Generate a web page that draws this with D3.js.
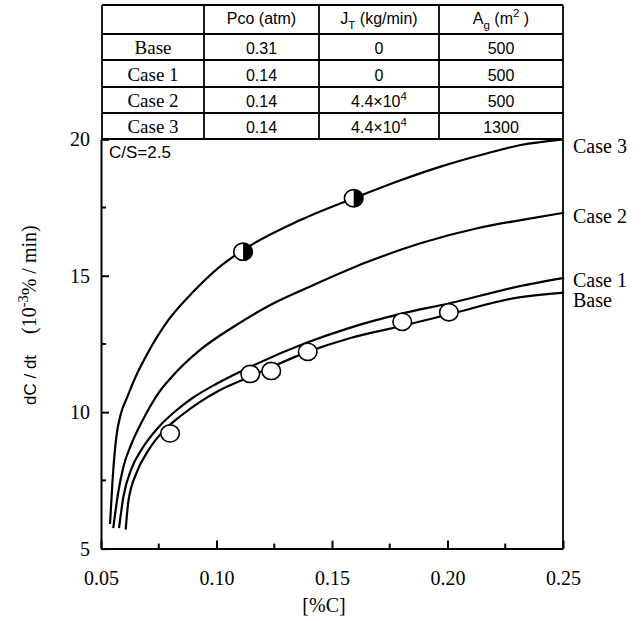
<!DOCTYPE html>
<html>
<head>
<meta charset="utf-8">
<script src="https://cdn.jsdelivr.net/npm/d3@7"></script>
<style>
  body { margin: 0; background: #fff; }
  .tick text { font-family: 'Liberation Serif', 'Times New Roman', serif; font-size: 20px; }
</style>
</head>
<body>
<script>
// ---- data ----
var caseNames = ["Base", "Case 1", "Case 2", "Case 3"];
var pcoVals = ["0.31", "0.14", "0.14", "0.14"];
var jtVals = ["0", "0", "4.4\u00d710^{4}", "4.4\u00d710^{4}"];
var agVals = ["500", "500", "500", "1300"];
var tableHeads = ["", "Pco (atm)", "J_{T} (kg/min)", "A_{g} (m^{2} )"];

// curves: [%C, dC/dt]
var baseCurve = [[0.0607,5.7],[0.0618,6.7],[0.0655,7.8],[0.0705,8.6],[0.0763,9.25],[0.0843,9.85],
  [0.0929,10.38],[0.1002,10.75],[0.1146,11.3],[0.1392,12.2],[0.158,12.72],[0.1797,13.15],
  [0.2014,13.6],[0.2303,14.2],[0.2505,14.38]];
var case1Curve = [[0.0578,5.75],[0.0597,6.9],[0.0633,7.95],[0.0677,8.65],[0.0749,9.45],[0.0828,10.08],
  [0.0893,10.5],[0.1002,11.05],[0.1146,11.66],[0.1392,12.55],[0.158,13.1],[0.1797,13.6],
  [0.2014,14.0],[0.2303,14.6],[0.2505,14.92]];
var case2Curve = [[0.0553,5.75],[0.0575,7.08],[0.0597,8.0],[0.0633,8.86],[0.0677,9.65],[0.0712,10.2],
  [0.0757,10.8],[0.0807,11.3],[0.0929,12.28],[0.1074,13.13],[0.1233,13.93],[0.142,14.66],[0.1652,15.5],
  [0.1883,16.19],[0.2129,16.74],[0.2317,17.04],[0.2505,17.31]];
var case3Curve = [[0.0539,5.9],[0.055,7.5],[0.0565,9.0],[0.0588,10.0],[0.0611,10.5],[0.065,11.3],
  [0.0698,12.1],[0.0792,13.38],[0.0899,14.41],[0.1007,15.28],[0.1107,15.9],[0.1363,17.04],[0.1594,17.84],
  [0.1797,18.5],[0.197,19.0],[0.2173,19.49],[0.2317,19.79],[0.25,20.0]];
var curveLabels = ["Base", "Case 1", "Case 2", "Case 3"];

// measured points
var openX = [0.0799, 0.1146, 0.1237, 0.1395, 0.1804, 0.2006];
var openY = [9.22, 11.4, 11.51, 12.21, 13.31, 13.66];
var halfX = [0.1115, 0.1594];
var halfY = [15.88, 17.84];

var xTicks = [0.05, 0.10, 0.15, 0.20, 0.25];
var xMinor = [0.075, 0.125, 0.175, 0.225];
var yTicks = [5, 10, 15, 20];
var yMinor = [7.5, 12.5, 17.5];

// ---- layout ----
var w = 643, h = 621;
var plotL = 101, plotR = 563, plotT = 139.3, plotB = 548.6;
var serif = "'Liberation Serif', 'Times New Roman', serif";
var sans = "'Liberation Sans', Arial, sans-serif";

var svg = d3.select("body").append("svg")
    .attr("width", w)
    .attr("height", h);

var x = d3.scaleLinear().domain([0.05, 0.25]).range([plotL, plotR]);
var y = d3.scaleLinear().domain([5, 20]).range([plotB, plotT]);

// writes text with ^{} and _{} parts as tspans
function rich(sel, str, size){
    var parts = str.split(/(\^\{[^}]*\}|_\{[^}]*\})/).filter(function(s){ return s.length; });
    var back = 0;
    parts.forEach(function(p){
        if (p[0] === "^" || p[0] === "_") {
            var up = p[0] === "^" ? -0.42 * size : 0.3 * size;
            sel.append("tspan").attr("dy", up).attr("font-size", size * 0.72).text(p.slice(2, -1));
            back = -up;
        } else {
            sel.append("tspan").attr("dy", back).text(p);
            back = 0;
        }
    });
}

// ---- table ----
var colEdges = [102, 204, 319, 439, 563];
var rowEdges = [5, 34, 60, 87, 113, 139];
var table = svg.append("g").attr("class", "table");

table.selectAll(".hline")
    .data(rowEdges)
    .enter()
    .append("line")
    .attr("class", "hline")
    .attr("x1", colEdges[0]).attr("x2", colEdges[4])
    .attr("y1", function(d){ return d; }).attr("y2", function(d){ return d; })
    .style("stroke", "#000").style("stroke-width", 1.8);

table.selectAll(".vline")
    .data(colEdges)
    .enter()
    .append("line")
    .attr("class", "vline")
    .attr("x1", function(d){ return d; }).attr("x2", function(d){ return d; })
    .attr("y1", rowEdges[0]).attr("y2", rowEdges[5])
    .style("stroke", "#000").style("stroke-width", 1.8);

tableHeads.forEach(function(t, i){
    if (!t) return;
    var txt = table.append("text")
        .attr("x", (colEdges[i] + colEdges[i + 1]) / 2)
        .attr("y", 24)
        .attr("text-anchor", "middle")
        .style("font-family", sans).style("font-size", "16px");
    rich(txt, t, 16);
});

var cols = [caseNames, pcoVals, jtVals, agVals];
cols.forEach(function(vals, c){
    vals.forEach(function(v, r){
        var txt = table.append("text")
            .attr("x", (colEdges[c] + colEdges[c + 1]) / 2)
            .attr("y", (rowEdges[r + 1] + rowEdges[r + 2]) / 2 + 7)
            .attr("text-anchor", "middle")
            .style("font-family", c === 0 ? serif : sans)
            .style("font-size", c === 0 ? "19px" : "16px");
        rich(txt, v, 16);
    });
});

// ---- axes ----
var xAxis = svg.append("g")
    .attr("transform", "translate(0," + plotB + ")")
    .call(d3.axisBottom(x).tickValues(xTicks).tickSizeInner(-8).tickSizeOuter(0).tickPadding(22)
        .tickFormat(d3.format(".2f")));
xAxis.selectAll(".minor")
    .data(xMinor)
    .enter()
    .append("line")
    .attr("class", "minor")
    .attr("x1", function(d){ return x(d); }).attr("x2", function(d){ return x(d); })
    .attr("y1", 0).attr("y2", -5);

var yAxis = svg.append("g")
    .attr("transform", "translate(" + plotL + ",0)")
    .call(d3.axisLeft(y).tickValues(yTicks).tickSizeInner(-8).tickSizeOuter(0).tickPadding(11));
yAxis.selectAll(".minor")
    .data(yMinor)
    .enter()
    .append("line")
    .attr("class", "minor")
    .attr("y1", function(d){ return y(d); }).attr("y2", function(d){ return y(d); })
    .attr("x1", 0).attr("x2", 5);

[xAxis, yAxis].forEach(function(ax){
    ax.attr("font-family", serif).attr("font-size", 20);
});
svg.selectAll(".domain, .tick line, .minor")
    .style("stroke", "#000").style("stroke-width", 2);
svg.selectAll(".tick text")
    .style("font-family", serif).style("font-size", "20px").style("fill", "#000");

// right frame
svg.append("line")
    .attr("x1", plotR).attr("x2", plotR)
    .attr("y1", plotT).attr("y2", plotB)
    .style("stroke", "#000").style("stroke-width", 1.8);

// ---- curves ----
var line = d3.line()
    .x(function(d){ return x(d[0]); })
    .y(function(d){ return y(d[1]); })
    .curve(d3.curveMonotoneX);

var curves = [baseCurve, case1Curve, case2Curve, case3Curve];
svg.selectAll(".curve")
    .data(curves)
    .enter()
    .append("path")
    .attr("class", "curve")
    .attr("d", line)
    .style("fill", "none")
    .style("stroke", "#000")
    .style("stroke-width", 2.2);

// curve labels at the right edge
var labelY = [307, 287, 223, 153];
svg.selectAll(".clabel")
    .data(curveLabels)
    .enter()
    .append("text")
    .attr("class", "clabel")
    .attr("x", plotR + 10)
    .attr("y", function(d, i){ return labelY[i]; })
    .style("font-family", serif).style("font-size", "20px")
    .text(function(d){ return d; });

// ---- markers ----
var openPts = openX.map(function(v, i){ return [v, openY[i]]; });
svg.selectAll(".open")
    .data(openPts)
    .enter()
    .append("ellipse")
    .attr("class", "open")
    .attr("cx", function(d){ return x(d[0]); })
    .attr("cy", function(d){ return y(d[1]); })
    .attr("rx", 9.3).attr("ry", 8.6)
    .style("fill", "#fff").style("stroke", "#000").style("stroke-width", 1.6);

var halfPts = halfX.map(function(v, i){ return [v, halfY[i]]; });
var halves = svg.selectAll(".half")
    .data(halfPts)
    .enter()
    .append("g")
    .attr("class", "half")
    .attr("transform", function(d){ return "translate(" + x(d[0]) + "," + y(d[1]) + ")"; });
halves.append("ellipse")
    .attr("rx", 9.3).attr("ry", 8.6)
    .style("fill", "#fff");
halves.append("path")
    .attr("d", "M0,-8.6 A9.3,8.6 0 0 1 0,8.6 Z")
    .style("fill", "#000");
halves.append("ellipse")
    .attr("rx", 9.3).attr("ry", 8.6)
    .style("fill", "none").style("stroke", "#000").style("stroke-width", 1.6);

// ---- labels ----
svg.append("text")
    .attr("x", 109).attr("y", 158)
    .style("font-family", sans).style("font-size", "17px")
    .text("C/S=2.5");

svg.append("text")
    .attr("x", 324).attr("y", 612)
    .attr("text-anchor", "middle")
    .style("font-family", serif).style("font-size", "20px")
    .text("[%C]");

svg.append("text")
    .attr("transform", "translate(36,405) rotate(-90)")
    .style("font-family", sans).style("font-size", "17px")
    .text("dC / dt");

var units = svg.append("text")
    .attr("transform", "translate(36,334) rotate(-90)")
    .style("font-family", serif).style("font-size", "20px");
rich(units, "(10^{-3}% / min)", 20);
</script>
</body>
</html>
